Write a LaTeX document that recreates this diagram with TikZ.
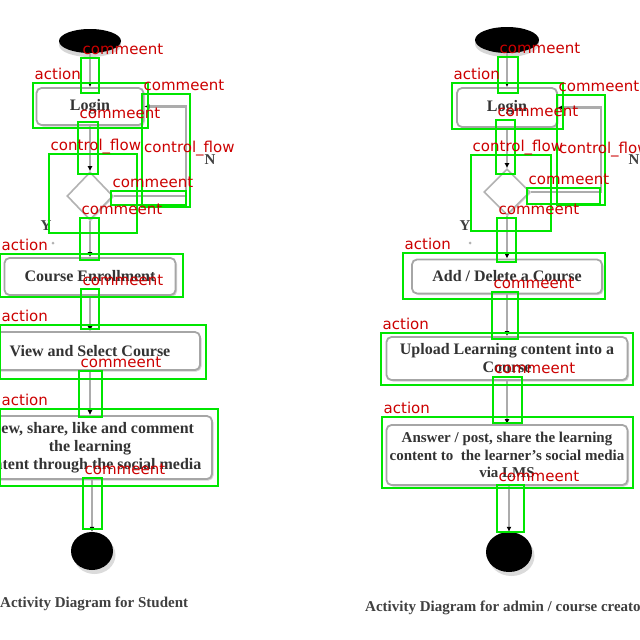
\documentclass[tikz,border=0pt]{standalone}
\usepackage{fontspec}
\setmainfont{Liberation Serif}
\newfontfamily\lblfont{DejaVu Sans}
\usetikzlibrary{shapes.geometric,arrows.meta,shadows}
\definecolor{annred}{RGB}{204,0,0}
\definecolor{anngreen}{RGB}{0,230,0}
\begin{document}
\begin{tikzpicture}[x=1pt,y=-1pt,
  actbox/.style={draw=gray!70, line width=1.8pt, rounded corners=5pt, fill=white,
    align=center, inner sep=0pt, text=black!80,
    font=\bfseries\fontsize{16}{18}\selectfont,
    drop shadow={shadow xshift=1.5pt, shadow yshift=-1.5pt, opacity=0.35}},
  decbox/.style={diamond, draw=gray!60, line width=1.6pt, fill=white, inner sep=0pt,
    drop shadow={shadow xshift=1pt, shadow yshift=-1.5pt, opacity=0.3}},
  startdot/.style={ellipse, fill=black, inner sep=0pt,
    drop shadow={shadow xshift=0pt, shadow yshift=-4pt, fill=gray!45, opacity=0.7}},
  enddot/.style={ellipse, fill=black, inner sep=0pt,
    drop shadow={shadow xshift=2.5pt, shadow yshift=-4pt, fill=gray!40, opacity=0.7}},
  flow/.style={draw=gray!65, line width=2.4pt,
    -{Latex[length=5pt,width=5pt,black]}},
  yn/.style={font=\bfseries\fontsize{15}{15}\selectfont, text=black!75, inner sep=0pt},
  caption/.style={font=\bfseries\fontsize{15}{16}\selectfont, text=black!75, inner sep=0pt, anchor=west},
  gbox/.style={draw=anngreen, line width=2pt},
  lbl/.style={font=\lblfont\fontsize{15}{15}\selectfont, text=annred, inner sep=0pt, anchor=base west}
]
\useasboundingbox (0,0) rectangle (640,640);
\fill[white] (0,0) rectangle (640,640);

% ---------------- left diagram (student) ----------------
\node[startdot, minimum width=62pt, minimum height=24pt] (s1) at (90,41) {};
\node[actbox, minimum width=107pt, minimum height=37pt] (l1) at (90,106.5) {Login};
\node[decbox, minimum width=46pt, minimum height=48pt] (d1) at (90,196) {};
\node[actbox, minimum width=171pt, minimum height=37pt] (c1) at (90,276.5) {Course Enrollment};
\node[actbox, minimum width=220pt, minimum height=38pt] (v1) at (90,351) {View and Select Course};
\node[actbox, minimum width=244pt, minimum height=63pt] (w1) at (90,447.5)
  {View, share, like and comment\\the learning\\content through the social media};
\node[enddot, minimum width=42pt, minimum height=38pt] (e1) at (92,551) {};
\node[yn] (y1) at (46,226) {Y};
\node[yn] (n1) at (210,160) {N};
\fill[gray!60] (53,243) circle (1.5pt);
\node[caption] (cap1) at (0,604) {Activity Diagram for Student};

\draw[flow] (s1.south) -- (l1.north);
\draw[flow] (l1.south) -- (d1.north);
\draw[flow] (d1.east) -- ++(72,0) |- (l1.east);
\draw[flow] (d1.south) -- (c1.north);
\draw[flow] (c1.south) -- (v1.north);
\draw[flow] (v1.south) -- (w1.north);
\draw[flow] (e1.north |- w1.south) -- (e1.north);

% ---------------- right diagram (admin) ----------------
\node[startdot, minimum width=64pt, minimum height=26pt] (s2) at (507,40) {};
\node[actbox, minimum width=100pt, minimum height=39pt] (l2) at (507,107.5) {Login};
\node[decbox, minimum width=46pt, minimum height=46pt] (d2) at (507,192) {};
\node[actbox, minimum width=190pt, minimum height=34pt] (a2) at (507,276.5) {Add / Delete a Course};
\node[actbox, minimum width=241pt, minimum height=43pt] (u2) at (507,358.5)
  {Upload Learning content into a\\Course};
\node[actbox, minimum width=241pt, minimum height=60pt,
  font=\bfseries\fontsize{15}{17.5}\selectfont] (p2) at (507,455)
  {Answer / post, share the learning\\content to \ the learner's social media\\via LMS};
\node[enddot, minimum width=46pt, minimum height=40pt] (e2) at (509,552) {};
\node[yn] (y2) at (465,226) {Y};
\node[yn] (n2) at (634,160) {N};
\fill[gray!60] (470,243) circle (1.5pt);
\node[caption] (cap2) at (365,608) {Activity Diagram for admin / course creator};

\draw[flow] (s2.south) -- (l2.north);
\draw[flow] (l2.south) -- (d2.north);
\draw[flow] (d2.east) -- ++(70,0) |- (l2.east);
\draw[flow] (d2.south) -- (a2.north);
\draw[flow] (a2.south) -- (u2.north);
\draw[flow] (u2.south) -- (p2.north);
\draw[flow] (e2.north |- p2.south) -- (e2.north);

% ---------------- annotation overlay ----------------
\foreach \xa/\ya/\xb/\yb/\t [count=\i] in {
  81/58/99/93/commeent, 33/83/148/128/action, 142/94/190/207/commeent,
  78/122/98/174/commeent, 49/154/137/233/control\_flow, 111/191/186/205/commeent,
  80/218/99/260/commeent, 0/254/183/297/action, 81/289/99/329/commeent,
  0/325/206/379/action, 79/371/102/417/commeent, 0/409/218/486/action,
  83/478/102/529/commeent,
  498/57/518/93/commeent, 452/83/563/129/action, 557/95/605/205/commeent,
  496/120/515/174/commeent, 471/155/551/231/control\_flow, 527/188/600/204/commeent,
  497/218/516/262/commeent, 403/253/605/299/action, 492/292/518/339/commeent,
  381/333/633/385/action, 493/377/522/423/commeent, 382/417/633/488/action,
  497/485/524/532/commeent}
{
  \draw[gbox] (\xa,\ya) rectangle (\xb,\yb);
}
\foreach \xa/\ya/\xb/\yb/\t [count=\i] in {
  81/58/99/93/commeent, 33/83/148/128/action, 142/94/190/207/commeent,
  78/122/98/174/commeent, 49/154/137/233/control\_flow, 111/191/186/205/commeent,
  80/218/99/260/commeent, 0/254/183/297/action, 81/289/99/329/commeent,
  0/325/206/379/action, 79/371/102/417/commeent, 0/409/218/486/action,
  83/478/102/529/commeent,
  498/57/518/93/commeent, 452/83/563/129/action, 557/95/605/205/commeent,
  496/120/515/174/commeent, 471/155/551/231/control\_flow, 527/188/600/204/commeent,
  497/218/516/262/commeent, 403/253/605/299/action, 492/292/518/339/commeent,
  381/333/633/385/action, 493/377/522/423/commeent, 382/417/633/488/action,
  497/485/524/532/commeent}
{
  \node[lbl] (ann\i) at (\xa+1.5,\ya-4) {\t};
}
\node[lbl] (annx1) at (144,152) {control\_flow};
\node[lbl] (annx2) at (559,153) {control\_flow};
\end{tikzpicture}
\end{document}
